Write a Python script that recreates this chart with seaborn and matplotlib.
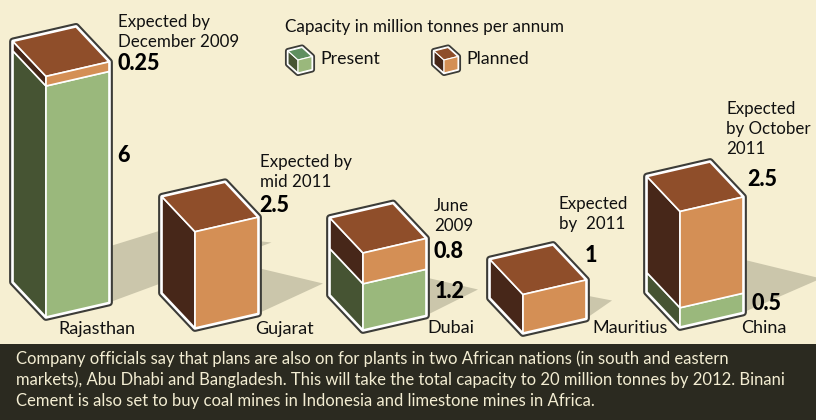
import numpy as np
import pandas as pd
import matplotlib
matplotlib.use("Agg")
import matplotlib.pyplot as plt
from matplotlib.transforms import Affine2D
import seaborn as sns

# data, million tonnes per annum
cities = ["Rajasthan", "Gujarat", "Dubai", "Mauritius", "China"]
present = [6, 0, 1.2, 0, 0.5]
planned = [0.25, 2.5, 0.8, 1, 2.5]

notes = [
    "Expected by\nDecember 2009",
    "Expected by\nmid 2011",
    "June\n2009",
    "Expected\nby  2011",
    "Expected\nby October\n2011",
]
legend_title = "Capacity in million tonnes per annum"
footer = [
    "Company officials say that plans are also on for plants in two African nations (in south and eastern",
    "markets), Abu Dhabi and Bangladesh. This will take the total capacity to 20 million tonnes by 2012. Binani",
    "Cement is also set to buy coal mines in Indonesia and limestone mines in Africa.",
]

# layout, in pixels of the 816x420 picture
PX_PER_UNIT = 38.5
W, H = 816, 420
front_left = [46, 195, 363, 523, 680]
front_base = [317, 328, 330, 333, 327]
BAR_W = 63
RISE = 14.5      # front face rises this much left to right
DEPTH = (-33, -35)

GREEN, GREEN_SIDE, GREEN_TOP = "#9ab87c", "#465433", "#5f8f60"
ORANGE, BROWN_SIDE, BROWN_TOP = "#d48f55", "#472719", "#8f4e2a"
BG, OUTLINE, SHADOW, FOOT = "#f6efd2", "#3c3c38", "#cbc6ab", "#2b2a20"


def vy(px):
    return (H - px) / PX_PER_UNIT


sns.set_theme(style="white")
plt.rcParams["font.family"] = ["Lato", "DejaVu Sans"]

fig = plt.figure(figsize=(W / 100, H / 100), dpi=100, facecolor=BG)
ax = fig.add_axes([0, 0, 1, 1])
ax.set_facecolor(BG)

# front faces come from seaborn, then get sheared onto the isometric base
slope = RISE / BAR_W / PX_PER_UNIT
centers = [x + BAR_W / 2 for x in front_left]
width = BAR_W / np.diff(centers).min()
df = pd.DataFrame({"x": centers, "present": present, "planned": planned})


def front_bars(col, color, bottoms):
    n = len(ax.patches)
    sns.barplot(data=df, x="x", y=col, native_scale=True, width=width, color=color,
                saturation=1, errorbar=None, edgecolor="white", linewidth=1.2, ax=ax)
    for p, b, y0 in zip(ax.patches[n:], bottoms, front_base):
        m = Affine2D.from_values(1, slope, 0, 1, 0, vy(y0) + b - slope * p.get_x())
        p.set_transform(m + ax.transData)
        p.set_zorder(5)


front_bars("present", GREEN, [0] * 5)
front_bars("planned", ORANGE, present)


def box(x, y, w, rise, depth, heights, sides, top, lw=(5.6, 2.6, 1.2)):
    # x, y is the front bottom corner in pixels, heights in value units
    total = sum(heights) * PX_PER_UNIT
    dx, dy = depth
    outer = [(x + dx, y + dy), (x, y), (x + w, y - rise), (x + w, y - rise - total),
             (x + w + dx, y - rise - total + dy), (x + dx, y - total + dy)]
    ox, oy = zip(*outer)
    oy = [vy(v) for v in oy]
    ax.fill(ox, oy, fc=OUTLINE, ec=OUTLINE, lw=lw[0], joinstyle="round", zorder=3)
    ax.fill(ox, oy, fc="white", ec="white", lw=lw[1], joinstyle="round", zorder=3)
    low = 0
    for h, c in zip(heights, sides):
        if h == 0:
            continue
        hi = low + h * PX_PER_UNIT
        px = [x + dx, x, x, x + dx]
        py = [y + dy - low, y - low, y - hi, y + dy - hi]
        ax.fill(px, [vy(v) for v in py], fc=c, ec="white", lw=lw[2], zorder=4)
        low = hi
    px = [x, x + w, x + w + dx, x + dx]
    py = [y - total, y - rise - total, y - rise - total + dy, y - total + dy]
    ax.fill(px, [vy(v) for v in py], fc=top, ec="white", lw=lw[2], zorder=4)


# cast shadows scale with the height of each bar
for x, y, a, b in zip(front_left, front_base, present, planned):
    t = a + b
    rx, ry = x + BAR_W, y - RISE
    edge = min(8 + 15 * t, 56)
    pts = [(rx, ry), (rx, ry - edge)]
    if 11.5 * t > edge:
        pts.append((rx + 8.2 * t, ry - 11.5 * t))
    pts.append((rx + 26 * t, ry - (10 + 8 * t)))
    sx, sy = zip(*pts)
    ax.fill(sx, [vy(v) for v in sy], fc=SHADOW, ec="none", zorder=1)

for x, y, a, b in zip(front_left, front_base, present, planned):
    box(x, y, BAR_W, RISE, DEPTH, [a, b], [GREEN_SIDE, BROWN_SIDE], BROWN_TOP)

# legend cubes
cube_h = 13 / PX_PER_UNIT
cube_lw = (4.4, 1.8, 0.8)
box(298, 73, 14, 3.5, (-10, -9), [cube_h], [GREEN_SIDE], GREEN_TOP, lw=cube_lw)
ax.fill([298, 312, 312, 298], [vy(73), vy(69.5), vy(56.5), vy(60)], fc=GREEN, ec="white", lw=0.8, zorder=5)
box(444, 73, 14, 3.5, (-10, -9), [cube_h], [BROWN_SIDE], BROWN_TOP, lw=cube_lw)
ax.fill([444, 458, 458, 444], [vy(73), vy(69.5), vy(56.5), vy(60)], fc=ORANGE, ec="white", lw=0.8, zorder=5)


def label(x, y, s, size=13, weight="normal", color="#111111", ha="left", ls=1.3):
    ax.text(x, vy(y), s, fontsize=size, fontweight=weight, color=color, ha=ha, va="center",
            linespacing=ls, zorder=7)


# city names
name_pos = [(58, 329), (255, 329), (427, 328), (592, 328), (741, 328)]
for c, (x, y) in zip(cities, name_pos):
    label(x, y, c)

# timing notes
note_pos = [(118, 32), (260, 172), (434, 216), (559, 214), (726, 129)]
for n, (x, y) in zip(notes, note_pos):
    label(x, y, n, size=12.2)

# value labels, top segment then lower one
planned_pos = [(117, 64), (259, 205), (434, 251), (585, 255), (747, 180)]
for v, (x, y) in zip(planned, planned_pos):
    label(x, y, f"{v:g}", size=15.5, weight=900, color="black")
present_pos = [(117, 156), None, (435, 292), None, (752, 303)]
for v, pos in zip(present, present_pos):
    if pos:
        label(pos[0], pos[1], f"{v:g}", size=15.5, weight=900, color="black")

label(285, 27, legend_title, size=12.3)
label(320, 59, "Present", size=12.8)
label(466, 59, "Planned", size=12.8)

# footer band
ax.axhspan(0, vy(344), color=FOOT, lw=0, zorder=6)
for line, y in zip(footer, [359, 380, 401]):
    label(16, y, line, size=11.95, color="#f3edd2")

ax.set_xlim(0, W)
ax.set_ylim(0, H / PX_PER_UNIT)
ax.axis("off")

fig.savefig("out.png", dpi=100, facecolor=BG)
